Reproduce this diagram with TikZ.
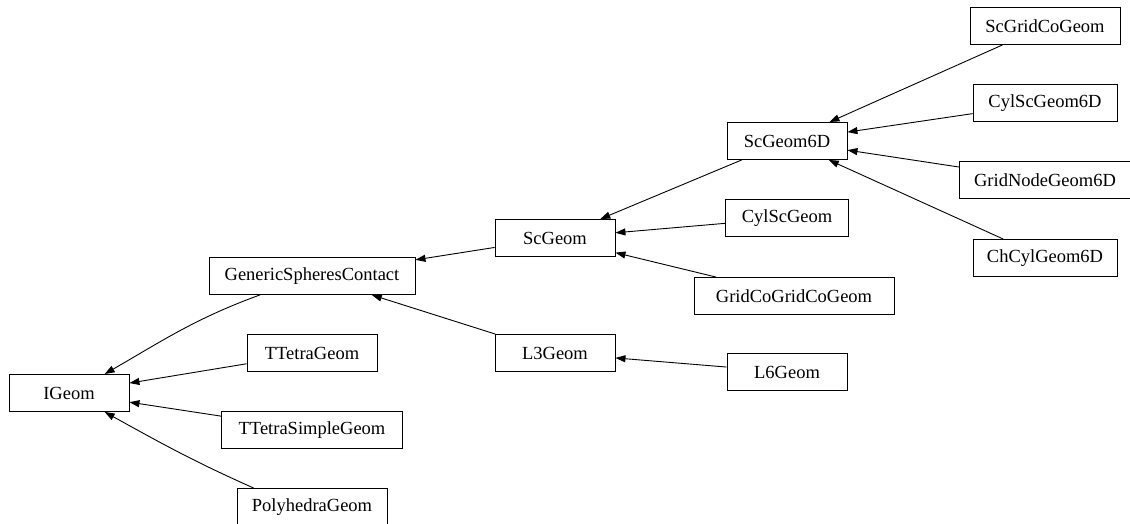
\documentclass[tikz,border=0pt]{standalone}
\usepackage{fontspec}
\setmainfont{Liberation Serif}
\usetikzlibrary{arrows.meta}
\begin{document}
\begin{tikzpicture}[x=1pt,y=1pt,
  cls/.style={draw,line width=0.9pt,minimum width=#1,minimum height=37pt,
    inner xsep=0pt,inner ysep=0pt,font=\fontsize{18.5}{22}\selectfont},
  cls/.default=120pt,
  inherit/.style={line width=0.9pt,-{Triangle[length=10pt,width=7pt]}}]
  \useasboundingbox (0,0) rectangle (1130,524);
  \node[cls] (ig) at (69,131) {IGeom};
  \node[cls=206pt] (gsc) at (312,248) {GenericSpheresContact};
  \node[cls=130pt] (tt) at (312,171) {TTetraGeom};
  \node[cls=181pt] (tts) at (312,94) {TTetraSimpleGeom};
  \node[cls=150pt] (poly) at (312,17) {PolyhedraGeom};
  \node[cls] (sc) at (555,286) {ScGeom};
  \node[cls] (l3) at (555,171) {L3Geom};
  \node[cls] (sc6) at (787,383) {ScGeom6D};
  \node[cls=123pt] (cyl) at (787,306) {CylScGeom};
  \node[cls=200pt] (gcg) at (794,228) {GridCoGridCoGeom};
  \node[cls] (l6) at (787,152) {L6Geom};
  \node[cls=150pt] (sgc) at (1045,498) {ScGridCoGeom};
  \node[cls=144pt] (cyl6) at (1045,421) {CylScGeom6D};
  \node[cls=171pt] (gn6) at (1045,344) {GridNodeGeom6D};
  \node[cls=144pt] (chc) at (1045,266) {ChCylGeom6D};
  \draw[inherit] (gsc.200) to[out=200,in=30] (ig.28);
  \draw[inherit] (tt) -- (ig);
  \draw[inherit] (tts) -- (ig);
  \draw[inherit] (poly.162) to[out=156,in=-29] (ig.-28);
  \draw[inherit] (sc) -- (gsc);
  \draw[inherit] (l3) -- (gsc);
  \draw[inherit] (sc6) -- (sc);
  \draw[inherit] (cyl) -- (sc);
  \draw[inherit] (gcg) -- (sc);
  \draw[inherit] (l6) -- (l3);
  \draw[inherit] (sgc) -- (sc6);
  \draw[inherit] (cyl6) -- (sc6);
  \draw[inherit] (gn6) -- (sc6);
  \draw[inherit] (chc) -- (sc6);
\end{tikzpicture}
\end{document}
